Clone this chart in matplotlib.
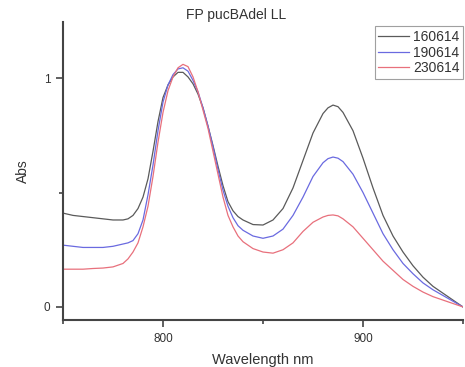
import matplotlib
matplotlib.use("Agg")
import matplotlib.pyplot as plt
from matplotlib.ticker import MultipleLocator

plt.rcParams['font.family'] = ['Liberation Sans', 'DejaVu Sans']

# absorbance spectra (finer steps around the 810 nm band)
wavelength = [750, 755, 760, 765, 770, 775,
              780, 782.5, 785, 787.5, 790, 792.5, 795, 797.5, 800, 802.5, 805,
              807.5, 810, 812.5, 815, 817.5, 820, 822.5, 825, 827.5, 830, 832.5,
              835, 837.5, 840,
              845, 850, 855, 860, 865, 870, 875, 880,
              882.5, 885, 887.5,
              890, 895, 900, 905, 910, 915, 920, 925, 930, 935, 940, 945, 950]
abs_160614 = [0.41, 0.40, 0.395, 0.39, 0.385, 0.38,
              0.38, 0.385, 0.40, 0.43, 0.48, 0.56, 0.68, 0.81, 0.915, 0.97, 1.005,
              1.025, 1.025, 1.005, 0.975, 0.93, 0.87, 0.79, 0.705, 0.615, 0.53, 0.46,
              0.42, 0.395, 0.38,
              0.36, 0.358, 0.38, 0.43, 0.52, 0.64, 0.76, 0.845,
              0.87, 0.882, 0.875,
              0.85, 0.77, 0.65, 0.52, 0.40, 0.31, 0.24, 0.18, 0.13, 0.09, 0.06, 0.03, 0.0]
abs_190614 = [0.27, 0.265, 0.26, 0.26, 0.26, 0.265,
              0.275, 0.28, 0.29, 0.32, 0.38, 0.49, 0.62, 0.77, 0.895, 0.97, 1.015,
              1.04, 1.045, 1.03, 0.99, 0.94, 0.87, 0.79, 0.70, 0.60, 0.51, 0.44,
              0.39, 0.355, 0.335,
              0.31, 0.30, 0.31, 0.34, 0.40, 0.48, 0.57, 0.63,
              0.648, 0.655, 0.65,
              0.635, 0.58, 0.50, 0.41, 0.32, 0.25, 0.19, 0.145, 0.105, 0.075, 0.05, 0.025, 0.0]
abs_230614 = [0.165, 0.165, 0.165, 0.168, 0.17, 0.175,
              0.19, 0.21, 0.24, 0.28, 0.35, 0.44, 0.57, 0.72, 0.85, 0.945, 1.005,
              1.045, 1.06, 1.05, 1.005, 0.94, 0.86, 0.78, 0.68, 0.58, 0.48, 0.40,
              0.35, 0.31, 0.285,
              0.255, 0.24, 0.235, 0.25, 0.28, 0.33, 0.37, 0.393,
              0.40, 0.402, 0.398,
              0.385, 0.35, 0.30, 0.25, 0.20, 0.16, 0.12, 0.09, 0.065, 0.045, 0.03, 0.015, 0.0]
labels = ['160614', '190614', '230614']
colors = ['#5a5a5a', '#6a6ae0', '#e8707c']

fig = plt.figure(figsize=(4.65, 3.67), dpi=100)
ax = fig.add_axes([63/465, 47/367, 400/465, 298/367])

for y, lab, c in zip([abs_160614, abs_190614, abs_230614], labels, colors):
    ax.plot(wavelength, y, color=c, lw=0.9, label=lab)

ax.set_xlim(750, 950)
ax.set_ylim(-0.057, 1.245)
ax.xaxis.set_major_locator(MultipleLocator(100))
ax.xaxis.set_minor_locator(MultipleLocator(50))
ax.yaxis.set_major_locator(MultipleLocator(1))
ax.yaxis.set_minor_locator(MultipleLocator(0.5))
ax.tick_params(which='both', direction='out', colors='#444444', labelsize=8.5,
               width=1.2, labelcolor='#333333')
ax.tick_params(which='major', length=5, pad=4)
ax.tick_params(which='minor', length=3)
for s in ['top', 'right']:
    ax.spines[s].set_visible(False)
for s in ['left', 'bottom']:
    ax.spines[s].set_color('#444444')
    ax.spines[s].set_linewidth(1.5)

ax.set_xlabel('Wavelength nm', fontsize=10.5, color='#333333', labelpad=6)
ax.set_ylabel('Abs', fontsize=10, color='#333333', labelpad=10)
fig.text(236/465, 1 - 15/367, 'FP pucBAdel LL', ha='center', va='center',
         fontsize=10, color='#333333')

leg = ax.legend(loc='upper right', bbox_to_anchor=(1.0, 0.985), fontsize=10,
                frameon=True, fancybox=False, handlelength=2.2, handletextpad=0.3,
                labelspacing=0.12, borderpad=0.25, borderaxespad=0.0)
leg.get_frame().set_edgecolor('#888888')
leg.get_frame().set_linewidth(0.8)
for t in leg.get_texts():
    t.set_color('#333333')

fig.savefig('out.png', dpi=100)
